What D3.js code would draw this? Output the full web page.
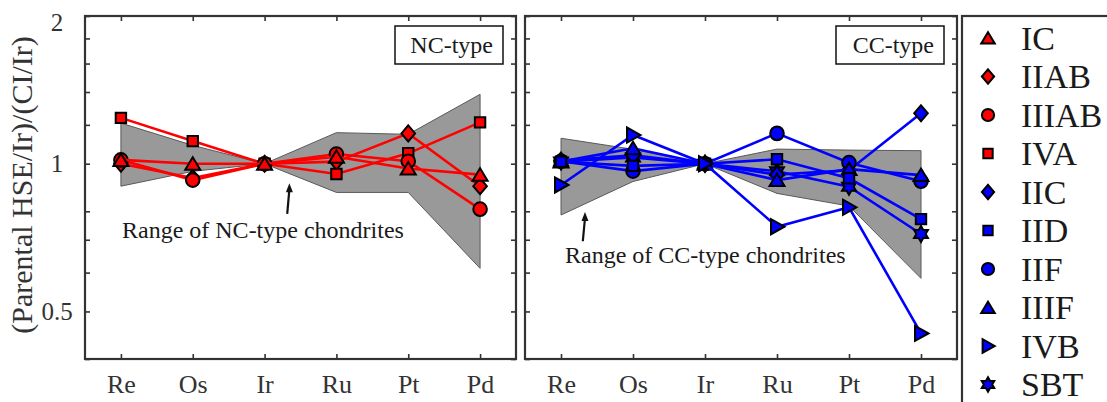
<!DOCTYPE html>
<html>
<head>
  <meta charset="utf-8"/>
  <title>HSE patterns</title>
  <script src="https://cdn.jsdelivr.net/npm/d3@7"></script>
  <style>
    body { margin: 0; background: #fff; }
    text { font-family: "Liberation Serif", "Times New Roman", serif; fill: #1a1a1a; }
  </style>
</head>
<body>
<svg id="chart" width="1107" height="402"></svg>
<script>

// elements along x
var elements = ["Re", "Os", "Ir", "Ru", "Pt", "Pd"];

// y ticks (only some labelled)
var yTicks = [0.4, 0.5, 0.6, 0.7, 0.8, 1, 1.2, 1.4, 1.6, 1.8, 2];
var yLabels = {0.5: "0.5", 1: "1", 2: "2"};

// NC-type irons
var ncIC    = [1.018, 1.0,   1, 1.033, 0.978, 0.950];
var ncIIAB  = [1.0,   0.935, 1, 1.010, 1.153, 0.900];
var ncIIIAB = [1.018, 0.926, 1, 1.047, 1.012, 0.808];
var ncIVA   = [1.240, 1.112, 1, 0.953, 1.050, 1.214];

// NC chondrite range
var ncLow  = [0.900, 0.965, 1, 0.874, 0.874, 0.612];
var ncHigh = [1.210, 1.090, 1, 1.157, 1.148, 1.385];

// CC-type irons
var ccIIC  = [1.015, 1.040, 1, 0.950, 0.970, 1.267];
var ccIID  = [1.009, 0.990, 1, 1.021, 0.934, 0.771];
var ccIIF  = [1.012, 0.966, 1, 1.153, 1.005, 0.921];
var ccIIIF = [1.010, 1.075, 1, 0.926, 0.975, 0.948];
var ccIVB  = [0.905, 1.144, 1, 0.744, 0.815, 0.451];
var ccSBT  = [1.010, 1.030, 1, 0.965, 0.898, 0.719];

// CC chondrite range
var ccLow  = [0.786, 0.920, 1, 0.870, 0.820, 0.584];
var ccHigh = [1.127, 1.070, 1, 1.071, 1.066, 1.063];

var RED = "#ff0000", BLUE = "#0000ff";

var ncSeries = [
  {name: "IIAB",  vals: ncIIAB,  shape: "diamond", color: RED},
  {name: "IVA",   vals: ncIVA,   shape: "square",  color: RED},
  {name: "IIIAB", vals: ncIIIAB, shape: "circle",  color: RED},
  {name: "IC",    vals: ncIC,    shape: "tri",     color: RED}
];
var ccSeries = [
  {name: "SBT",  vals: ccSBT,  shape: "hex",     color: BLUE},
  {name: "IIC",  vals: ccIIC,  shape: "diamond", color: BLUE},
  {name: "IIF",  vals: ccIIF,  shape: "circle",  color: BLUE},
  {name: "IIIF", vals: ccIIIF, shape: "tri",     color: BLUE},
  {name: "IID",  vals: ccIID,  shape: "square",  color: BLUE},
  {name: "IVB",  vals: ccIVB,  shape: "right",   color: BLUE}
];

var legendItems = [
  {name: "IC", shape: "tri", color: RED},
  {name: "IIAB", shape: "diamond", color: RED},
  {name: "IIIAB", shape: "circle", color: RED},
  {name: "IVA", shape: "square", color: RED},
  {name: "IIC", shape: "diamond", color: BLUE},
  {name: "IID", shape: "square", color: BLUE},
  {name: "IIF", shape: "circle", color: BLUE},
  {name: "IIIF", shape: "tri", color: BLUE},
  {name: "IVB", shape: "right", color: BLUE},
  {name: "SBT", shape: "hex", color: BLUE}
];

var svg = d3.select("#chart");
var top_ = 16, bottom_ = 359;

var y = d3.scaleLog().domain([0.4, 2]).range([bottom_, top_]);

function shapePath(type, s) {
  s = s || 1;
  if (type == "circle") {
    var r = 6.8 * s;
    return "M" + r + ",0A" + r + "," + r + " 0 1,1 " + (-r) + ",0A" + r + "," + r + " 0 1,1 " + r + ",0Z";
  }
  var pts;
  if (type == "tri") pts = [[0, -6.5], [7.5, 6], [-7.5, 6]];
  else if (type == "right") pts = [[7.5, 0], [-6, -7.5], [-6, 7.5]];
  else if (type == "diamond") pts = [[0, -8], [6.8, 0], [0, 8], [-6.8, 0]];
  else if (type == "square") pts = [[-5.2, -5.2], [5.2, -5.2], [5.2, 5.2], [-5.2, 5.2]];
  else if (type == "hex") {
    pts = [];
    for (var k = 0; k < 12; k++) {
      var rr = (k % 2 == 0) ? 8 : 8 / Math.sqrt(3);
      var a = (-90 + k * 30) * Math.PI / 180;
      pts.push([rr * Math.cos(a), rr * Math.sin(a)]);
    }
  }
  return "M" + pts.map(function (p) { return (p[0] * s).toFixed(2) + "," + (p[1] * s).toFixed(2); }).join("L") + "Z";
}

function panel(x0, x1, series, low, high, label, box, note) {
  var x = d3.scaleLinear().domain([-0.5, 5.5]).range([x0, x1]);
  var g = svg.append("g");
  var idx = d3.range(elements.length);

  // range band
  var area = d3.area()
    .x(function (i) { return x(i); })
    .y0(function (i) { return y(low[i]); })
    .y1(function (i) { return y(high[i]); });
  g.append("path")
    .attr("d", area(idx))
    .attr("fill", "#999999")
    .attr("stroke", "#5a5a5a")
    .attr("stroke-width", 1);

  // axes
  var left = g.append("g").attr("transform", "translate(" + x0 + ",0)")
    .call(d3.axisLeft(y).tickValues(yTicks).tickSize(-5).tickFormat(""));
  var right = g.append("g").attr("transform", "translate(" + x1 + ",0)")
    .call(d3.axisRight(y).tickValues(yTicks).tickSize(-5).tickFormat(""));
  var topAx = g.append("g").attr("transform", "translate(0," + top_ + ")")
    .call(d3.axisTop(x).tickValues(idx).tickSize(-5).tickFormat(""));
  var bot = g.append("g").attr("transform", "translate(0," + bottom_ + ")")
    .call(d3.axisBottom(x).tickValues(idx).tickSize(-5).tickFormat(function (i) { return elements[i]; }));
  [left, right, topAx, bot].forEach(function (a) {
    a.select(".domain").remove();
    a.selectAll("line").attr("stroke", "#333").attr("stroke-width", 1.6);
  });
  bot.selectAll("text")
    .attr("y", 34).attr("dy", null)
    .style("font-size", "26px")
    .style("fill", "#333");

  // frame
  g.append("rect")
    .attr("x", x0).attr("y", top_)
    .attr("width", x1 - x0).attr("height", bottom_ - top_)
    .attr("fill", "none").attr("stroke", "#333").attr("stroke-width", 2.2);

  // series
  var line = d3.line().x(function (d, i) { return x(i); }).y(function (d) { return y(d); });
  series.forEach(function (s) {
    g.append("path")
      .attr("d", line(s.vals))
      .attr("fill", "none")
      .attr("stroke", s.color)
      .attr("stroke-width", 2.6);
    g.selectAll(null)
      .data(s.vals)
      .enter().append("path")
      .attr("transform", function (d, i) { return "translate(" + x(i) + "," + y(d) + ")"; })
      .attr("d", shapePath(s.shape))
      .attr("fill", s.color)
      .attr("stroke", "#000")
      .attr("stroke-width", 2);
  });

  // type label box
  g.append("rect")
    .attr("x", box[0]).attr("y", 26).attr("width", box[1] - box[0]).attr("height", 38)
    .attr("fill", "#fff").attr("stroke", "#111").attr("stroke-width", 1.5);
  g.append("text")
    .attr("x", box[1] - 10).attr("y", 53)
    .attr("text-anchor", "end")
    .style("font-size", "24px")
    .text(label);

  // annotation arrow + text
  var ax = x(note.arrowX), ay0 = y(note.tail), ay1 = y(note.tip);
  var ax0 = x(note.arrowX - 0.03);
  g.append("line")
    .attr("x1", ax0).attr("y1", ay0).attr("x2", ax).attr("y2", ay1 + 6)
    .attr("stroke", "#111").attr("stroke-width", 2.2);
  g.append("path")
    .attr("d", "M" + ax + "," + ay1 + "L" + (ax + 3.5) + "," + (ay1 + 9) + "L" + (ax - 3.5) + "," + (ay1 + 9) + "Z")
    .attr("fill", "#111");
  g.append("text")
    .attr("x", x(note.textX)).attr("y", y(note.textY))
    .style("font-size", "24px")
    .text(note.text);
}

panel(85, 516, ncSeries, ncLow, ncHigh, "NC-type", [395, 503],
  {arrowX: 2.345, tail: 0.79, tip: 0.912, textX: 0.015, textY: 0.706, text: "Range of NC-type chondrites"});
panel(525, 957, ccSeries, ccLow, ccHigh, "CC-type", [836, 944],
  {arrowX: 0.333, tail: 0.695, tip: 0.797, textX: 0.056, textY: 0.628, text: "Range of CC-type chondrites"});

// y tick labels on the left panel
yTicks.filter(function (t) { return yLabels[t]; }).forEach(function (t) {
  svg.append("text")
    .attr("x", 57).attr("y", Math.max(y(t), 22))
    .attr("dy", "0.35em")
    .attr("text-anchor", "middle")
    .style("font-size", "25px")
    .style("fill", "#333")
    .text(yLabels[t]);
});

// y axis title
svg.append("text")
  .attr("transform", "translate(32,185) rotate(-90)")
  .attr("text-anchor", "middle")
  .style("font-size", "30px")
  .style("fill", "#333")
  .text("(Parental HSE/Ir)/(CI/Ir)");

// legend
var lg = svg.append("g");
lg.append("rect")
  .attr("x", 962).attr("y", 16).attr("width", 160).attr("height", 400)
  .attr("fill", "#fff").attr("stroke", "#333").attr("stroke-width", 2.2);
legendItems.forEach(function (d, i) {
  var yy = 38 + i * 38.5;
  lg.append("path")
    .attr("transform", "translate(988," + yy + ")")
    .attr("d", shapePath(d.shape, 0.9))
    .attr("fill", d.color).attr("stroke", "#000").attr("stroke-width", 2);
  lg.append("text")
    .attr("x", 1021).attr("y", yy + 11.5)
    .style("font-size", "34px")
    .text(d.name);
});

</script>
</body>
</html>
